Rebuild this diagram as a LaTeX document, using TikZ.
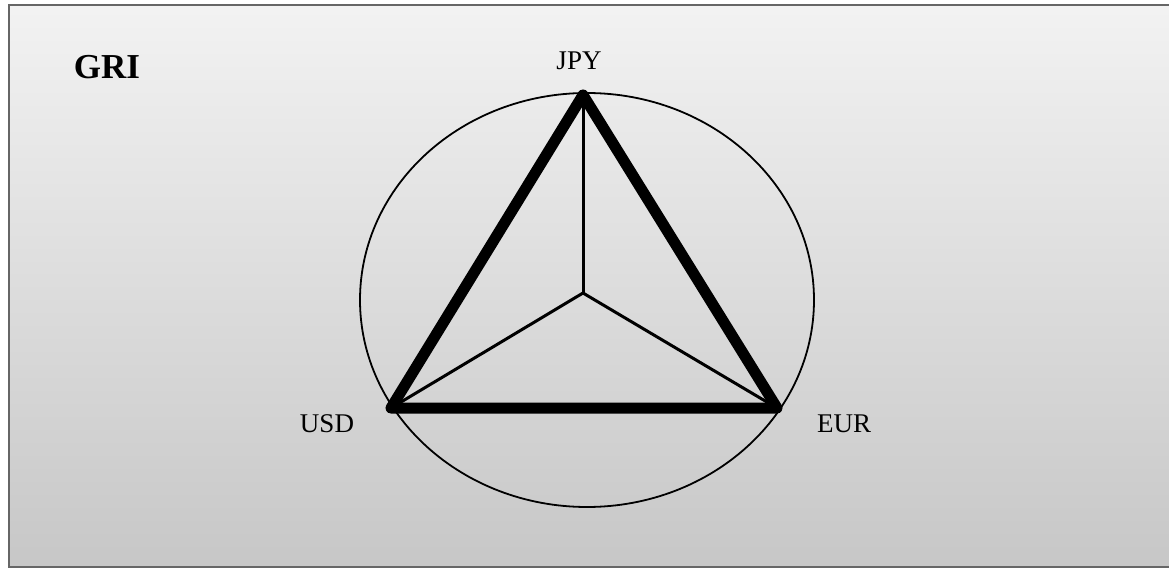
\documentclass[tikz,border=0pt]{standalone}
\usepackage{fontspec}
\setmainfont{Liberation Serif}
\begin{document}
\begin{tikzpicture}[x=1pt,y=-1pt,
  lbl/.style={font=\fontsize{27}{30}\selectfont, inner sep=0pt},
  thick edge/.style={line width=11pt, line join=round, line cap=round},
  spoke/.style={line width=3pt, line cap=round},
]
\useasboundingbox (0,0) rectangle (1169,569);
\clip (0,0) rectangle (1169,569);
\shade[top color=black!5, bottom color=black!22] (9,5) rectangle (1175,567);
\draw[black!60, line width=2.5pt] (9,5) rectangle (1175,567);
\draw[line width=1.8pt] (587,300) ellipse [x radius=227, y radius=207];
\coordinate (J) at (583,95);
\coordinate (U) at (391,408);
\coordinate (E) at (777,408);
\coordinate (C) at (583,293);
\draw[spoke] (C) -- (J);
\draw[spoke] (C) -- (U);
\draw[spoke] (C) -- (E);
\draw[thick edge] (J) -- (U) -- (E) -- cycle;
\node[lbl] (jpy) at (579,61) {JPY};
\node[lbl] (usd) at (327,424) {USD};
\node[lbl] (eur) at (844,424) {EUR};
\node[lbl, font=\fontsize{35}{38}\selectfont\bfseries] (gri) at (107,67) {GRI};
\end{tikzpicture}
\end{document}
